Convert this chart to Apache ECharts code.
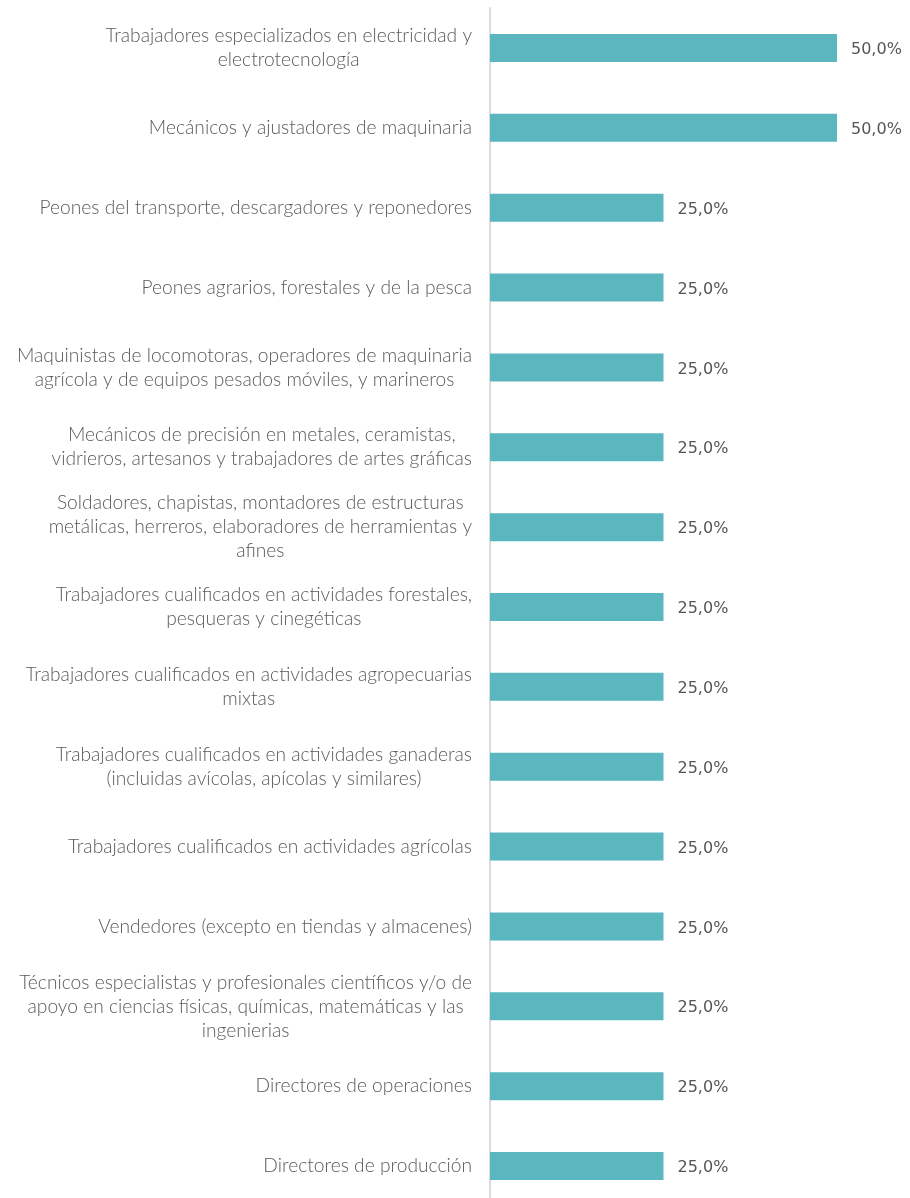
<!DOCTYPE html>
<html>
<head>
<meta charset="utf-8">
<script src="https://cdn.jsdelivr.net/npm/echarts@6/dist/echarts.min.js"></script>
<style>html,body{margin:0;padding:0;background:#fff;overflow:hidden}#c{width:910px;height:1206px}</style>
</head>
<body>
<div id="c"></div>
<script>
const categories = [
  "Trabajadores especializados en electricidad y\nelectrotecnología",
  "Mecánicos y ajustadores de maquinaria",
  "Peones del transporte, descargadores y reponedores",
  "Peones agrarios, forestales y de la pesca",
  "Maquinistas de locomotoras, operadores de maquinaria\nagrícola y de equipos pesados móviles, y marineros",
  "Mecánicos de precisión en metales, ceramistas,\nvidrieros, artesanos y trabajadores de artes gráficas",
  "Soldadores, chapistas, montadores de estructuras\nmetálicas, herreros, elaboradores de herramientas y\nafines",
  "Trabajadores cualificados en actividades forestales,\npesqueras y cinegéticas",
  "Trabajadores cualificados en actividades agropecuarias\nmixtas",
  "Trabajadores cualificados en actividades ganaderas\n(incluidas avícolas, apícolas y similares)",
  "Trabajadores cualificados en actividades agrícolas",
  "Vendedores (excepto en tiendas y almacenes)",
  "Técnicos especialistas y profesionales científicos y/o de\napoyo en ciencias físicas, químicas, matemáticas y las\ningenierias",
  "Directores de operaciones",
  "Directores de producción"
];
const values = [50, 50, 25, 25, 25, 25, 25, 25, 25, 25, 25, 25, 25, 25, 25];

const labelFont = { color: '#5a5a5a', fontFamily: 'Lato', fontSize: 19.2, fontWeight: 300, lineHeight: 24 };

const chart = echarts.init(document.getElementById('c'));
chart.setOption({
  animation: false,
  grid: { left: 490, right: 73, top: 8, bottom: 0, containLabel: false },
  xAxis: {
    type: 'value', min: 0, max: 50,
    show: false
  },
  yAxis: {
    type: 'category', data: categories, inverse: true,
    axisLine: { show: true, lineStyle: { color: '#dcdcdc', width: 2 } },
    axisTick: { show: false },
    axisLabel: Object.assign({
      margin: 18, align: 'right',
      formatter: v => v.split('\n').map(l => '{c|' + l + '}').join('\n'),
      rich: { c: Object.assign({ align: 'center' }, labelFont) }
    }, labelFont)
  },
  series: [{
    type: 'bar', data: values, barWidth: 28,
    itemStyle: { color: '#5ab6bf' },
    label: {
      show: true, position: 'right', distance: 14, offset: [0, 2],
      color: '#555', fontFamily: 'DejaVu Sans', fontSize: 16,
      formatter: p => p.value.toFixed(1).replace('.', ',') + '%'
    }
  }]
});
</script>
</body>
</html>
